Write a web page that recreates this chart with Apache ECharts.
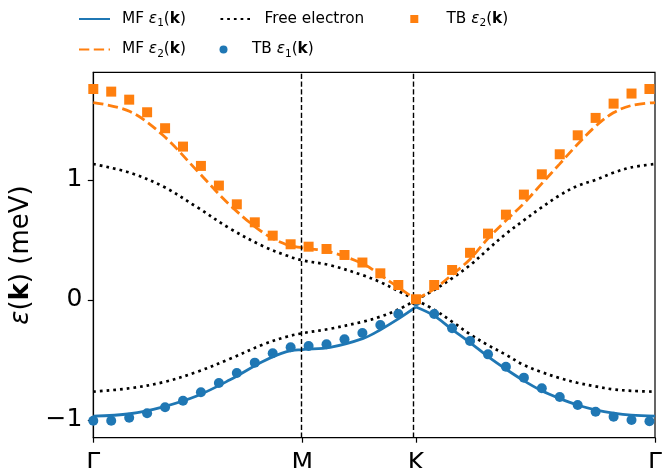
<!DOCTYPE html>
<html>
<head>
<meta charset="utf-8">
<script src="https://cdn.jsdelivr.net/npm/echarts@6/dist/echarts.min.js"></script>
<style>
html,body{margin:0;padding:0;background:#fff;}
#chart{width:668px;height:468px;}
</style>
</head>
<body>
<div id="chart"></div>
<script>
// ---- data ----
const kTicks = [0, 0.3721, 0.5745, 1];
const kTickLabels = ['Γ', 'M', 'K', 'Γ'];
const yTicks = [-1, 0, 1];

// k-path positions of the tight-binding samples
const kTB = [0, 0.0319, 0.0639, 0.0958, 0.1278, 0.1597, 0.1916, 0.2236, 0.2555, 0.2875,
  0.3194, 0.3513, 0.3833, 0.4152, 0.4472, 0.4791, 0.5110, 0.5430, 0.5745, 0.6069,
  0.6388, 0.6707, 0.7027, 0.7346, 0.7666, 0.7985, 0.8304, 0.8624, 0.8943, 0.9263,
  0.9582, 0.9901];
const tbE1 = [-1.006, -1.006, -0.981, -0.944, -0.894, -0.839, -0.769, -0.692, -0.608, -0.522,
  -0.444, -0.394, -0.383, -0.369, -0.328, -0.275, -0.209, -0.117, -0.010, -0.117,
  -0.236, -0.342, -0.453, -0.556, -0.647, -0.736, -0.808, -0.875, -0.931, -0.972,
  -1.000, -1.011];
const tbE2 = [1.758, 1.736, 1.669, 1.564, 1.431, 1.278, 1.117, 0.953, 0.797, 0.647,
  0.536, 0.464, 0.444, 0.425, 0.375, 0.312, 0.222, 0.125, 0.006, 0.125,
  0.250, 0.393, 0.553, 0.711, 0.878, 1.047, 1.214, 1.372, 1.517, 1.636,
  1.720, 1.758];

// k-path positions for the continuous curves (index 12 = K)
const kLine = [0, 0.0653, 0.1246, 0.1841, 0.2434, 0.3027, 0.3443, 0.3721, 0.4214, 0.4807,
  0.5104, 0.5430, 0.5745, 0.6066, 0.6386, 0.6707, 0.7022, 0.7342, 0.7655, 0.7976,
  0.8296, 0.8617, 0.8937, 0.9258, 0.9578, 1.0];
const mfE1 = [-0.967, -0.948, -0.89, -0.80, -0.665, -0.51, -0.43, -0.413, -0.395, -0.32,
  -0.25, -0.158, -0.058, -0.13, -0.245, -0.355, -0.47, -0.575, -0.67, -0.755,
  -0.82, -0.875, -0.915, -0.943, -0.96, -0.967];
const mfE2 = [1.645, 1.57, 1.37, 1.08, 0.79, 0.56, 0.46, 0.435, 0.40, 0.30,
  0.21, 0.105, 0.005, 0.09, 0.21, 0.34, 0.51, 0.66, 0.80, 0.965,
  1.13, 1.295, 1.445, 1.56, 1.62, 1.645];
const feUpper = [1.133, 1.06, 0.945, 0.775, 0.595, 0.447, 0.37, 0.33, 0.29, 0.205,
  0.15, 0.075, 0, 0.083, 0.18, 0.29, 0.42, 0.55, 0.66, 0.77,
  0.87, 0.95, 1.0, 1.06, 1.105, 1.133];
const feLower = [-0.764, -0.735, -0.685, -0.60, -0.49, -0.37, -0.306, -0.277, -0.24, -0.18,
  -0.14, -0.08, 0, -0.08, -0.18, -0.285, -0.375, -0.455, -0.54, -0.60,
  -0.65, -0.69, -0.72, -0.745, -0.757, -0.764];
const kIndex = 12;

const seriesNames = ['MF ε1(k)', 'MF ε2(k)', 'Free electron', 'TB ε1(k)', 'TB ε2(k)'];
// ---- end data ----

const BLUE = '#1f77b4', ORANGE = '#ff7f0e';
const FONT = 'DejaVu Sans';

function pairs(xs, ys, a, b) {
  const out = [];
  for (let i = a; i <= b; i++) out.push([xs[i], ys[i]]);
  return out;
}
function curve(name, ys, lineStyle, z) {
  const n = kLine.length - 1;
  return [
    {name, type: 'line', data: pairs(kLine, ys, 0, kIndex), smooth: 0.35, symbol: 'none', showSymbol: false, lineStyle, itemStyle: {color: lineStyle.color}, z, silent: true},
    {name, type: 'line', data: pairs(kLine, ys, kIndex, n), smooth: 0.35, symbol: 'none', showSymbol: false, lineStyle, itemStyle: {color: lineStyle.color}, z, silent: true}
  ];
}

const solidBlue = {color: BLUE, width: 2.8, type: 'solid'};
const dashOrange = {color: ORANGE, width: 2.8, type: [10.3, 4.5], cap: 'butt'};
const dotBlack = {color: '#000', width: 2.7, type: [2.7, 4.0], cap: 'butt'};

const series = [].concat(
  [{
    type: 'line', data: [], silent: true, z: 1,
    markLine: {
      silent: true, symbol: ['none', 'none'], label: {show: false},
      lineStyle: {color: '#000', width: 1.4, type: [5.2, 2.6]},
      data: [{xAxis: kTicks[1]}, {xAxis: kTicks[2]}],
      animation: false
    }
  }],
  curve(seriesNames[2], feUpper, dotBlack, 2),
  curve(seriesNames[2], feLower, dotBlack, 2),
  curve(seriesNames[0], mfE1, solidBlue, 3),
  curve(seriesNames[1], mfE2, dashOrange, 3),
  [
    {name: seriesNames[3], type: 'scatter', symbol: 'circle', symbolSize: 10,
      itemStyle: {color: BLUE, opacity: 1}, data: pairs(kTB, tbE1, 0, kTB.length - 1), z: 4, clip: true},
    {name: seriesNames[4], type: 'scatter', symbol: 'rect', symbolSize: 10,
      itemStyle: {color: ORANGE, opacity: 1}, data: pairs(kTB, tbE2, 0, kTB.length - 1), z: 5, clip: true}
  ]
);

const legendRich = {
  e: {fontFamily: FONT, fontSize: 15.3, fontStyle: 'italic', color: '#000'},
  s: {fontFamily: FONT, fontSize: 10.5, color: '#000', padding: [9, 0, 0, 0]},
  b: {fontFamily: FONT, fontSize: 15.3, fontWeight: 'bold', color: '#000'},
  n: {fontFamily: FONT, fontSize: 15.3, color: '#000'}
};
function legendFmt(name) {
  const m = name.match(/^(MF|TB) ε(\d)\(k\)$/);
  if (m) return '{n|' + m[1] + ' }{e|ε}{s|' + m[2] + '}{n|(}{b|k}{n|)}';
  return '{n|' + name + '}';
}
function mkLegend(name, left, centerY, pad, iw, ih, isLine) {
  const lg = {
    data: [name], left: left, top: centerY - 10, orient: 'horizontal',
    itemWidth: iw, itemHeight: ih, padding: 0, selectedMode: false,
    formatter: legendFmt,
    textStyle: {fontFamily: FONT, fontSize: 15.3, color: '#000', lineHeight: 20, padding: [0, 0, 0, pad], rich: legendRich}
  };
  if (isLine) {
    lg.itemStyle = {color: 'transparent', borderColor: 'transparent', borderWidth: 0, opacity: 0};
  }
  return lg;
}

const option = {
  animation: false,
  backgroundColor: '#fff',
  textStyle: {fontFamily: FONT},
  legend: [
    mkLegend(seriesNames[0], 78, 19, 7, 31, 8, true),
    mkLegend(seriesNames[1], 78, 49.5, 7, 31, 8, true),
    mkLegend(seriesNames[2], 219.5, 19, 8, 31, 8, true),
    mkLegend(seriesNames[3], 219.5, 49.5, 8, 31, 8, false),
    mkLegend(seriesNames[4], 410.3, 19, 23.2, 8, 8, false)
  ],
  grid: {left: 93.3, right: 13, top: 72.3, bottom: 30.3, show: true, borderColor: '#000', borderWidth: 1.2, backgroundColor: 'transparent', containLabel: false, outerBoundsMode: 'none'},
  xAxis: {
    type: 'value', min: 0, max: 1,
    axisLine: {show: true, onZero: false, lineStyle: {color: '#000', width: 1.2}},
    axisTick: {show: true, inside: false, length: 5, customValues: kTicks, lineStyle: {color: '#000', width: 1.2}},
    axisLabel: {
      customValues: kTicks, fontFamily: FONT, fontSize: 25, color: '#000', margin: 13,
      showMinLabel: true, showMaxLabel: true,
      formatter: function (v) {
        let best = 0, d = Infinity;
        kTicks.forEach((t, i) => { if (Math.abs(t - v) < d) { d = Math.abs(t - v); best = i; } });
        return kTickLabels[best];
      }
    },
    splitLine: {show: false}
  },
  yAxis: {
    type: 'value', min: -1.1475, max: 1.897,
    name: '{e|ε}{n|(}{b|k}{n|) (meV)}', nameLocation: 'middle', nameGap: 57, nameRotate: 90,
    nameTextStyle: {
      fontFamily: FONT, fontSize: 26, color: '#000',
      rich: {
        e: {fontFamily: FONT, fontSize: 26, fontStyle: 'italic', color: '#000'},
        b: {fontFamily: FONT, fontSize: 26, fontWeight: 'bold', color: '#000'},
        n: {fontFamily: FONT, fontSize: 26, color: '#000'}
      }
    },
    axisLine: {show: true, onZero: false, lineStyle: {color: '#000', width: 1.2}},
    axisTick: {show: true, inside: false, length: 5.5, customValues: yTicks, lineStyle: {color: '#000', width: 1.2}},
    axisLabel: {
      customValues: yTicks, fontFamily: FONT, fontSize: 25, color: '#000', margin: 11,
      formatter: function (v) { return v < 0 ? '−' + Math.abs(v) : String(v); }
    },
    splitLine: {show: false}
  },
  series: series
};

const chart = echarts.init(document.getElementById('chart'), null, {renderer: 'canvas'});
chart.setOption(option);
</script>
</body>
</html>
